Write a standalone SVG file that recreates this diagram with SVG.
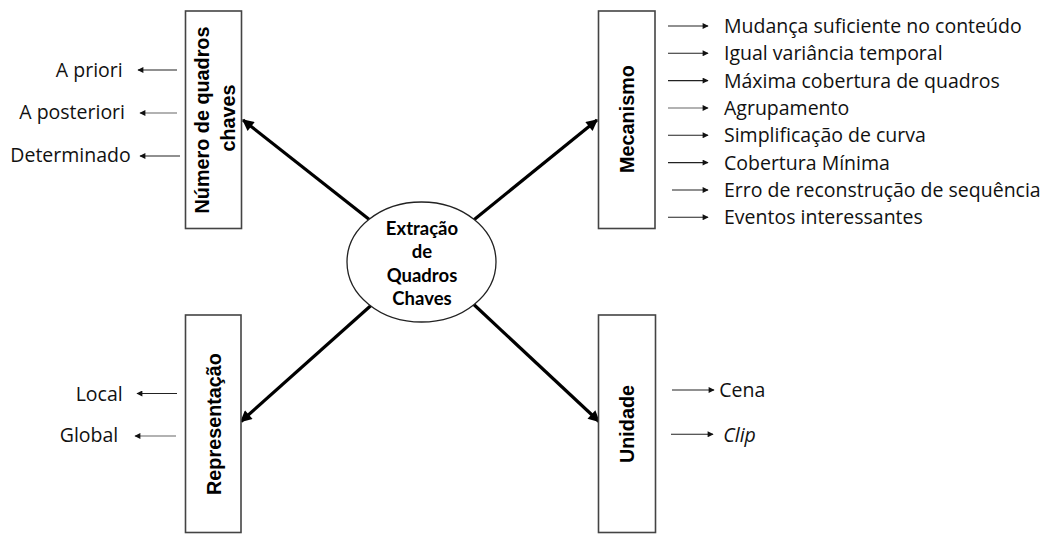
<svg xmlns="http://www.w3.org/2000/svg" width="1049" height="534" viewBox="0 0 1049 534">
<defs>
<style>
.box{fill:#fff;stroke:#444;stroke-width:1.6}
.bt{font-family:"Liberation Sans",Arial,sans-serif;font-weight:bold;font-size:19.8px;fill:#000;text-anchor:middle}
.ct{font-family:Lato,"Open Sans",sans-serif;font-weight:bold;font-size:18.5px;fill:#000;text-anchor:middle}
.lb{font-family:"Open Sans","Noto Sans",sans-serif;font-size:19.5px;fill:#111}
.lbe{font-family:"Open Sans","Noto Sans",sans-serif;font-size:19.5px;fill:#111;text-anchor:end}
.main{stroke:#000;stroke-width:3.2;fill:none}
.thin{stroke:#222;stroke-width:1.1;fill:none}
.gray{stroke:#999;stroke-width:1.6;fill:none}
</style>
<marker id="big" viewBox="0 0 10 10" refX="9" refY="5" markerWidth="4.2" markerHeight="3.6" markerUnits="strokeWidth" orient="auto">
<path d="M0,0 L10,5 L0,10 Z" fill="#000"/>
</marker>
<marker id="small" viewBox="0 0 10 10" refX="9" refY="5" markerWidth="7.5" markerHeight="6" markerUnits="userSpaceOnUse" orient="auto">
<path d="M0,0 L10,5 L0,10 Z" fill="#111"/>
</marker>
</defs>
<rect width="1049" height="534" fill="#fff"/>
<g id="connectors">
<line class="main" x1="375" y1="224" x2="243" y2="120" marker-end="url(#big)"/>
<line class="main" x1="470" y1="223" x2="597" y2="120" marker-end="url(#big)"/>
<line class="main" x1="376" y1="301" x2="241" y2="421.5" marker-end="url(#big)"/>
<line class="main" x1="469" y1="300" x2="599" y2="421.5" marker-end="url(#big)"/>
<line class="thin" x1="177" y1="70" x2="138" y2="70" marker-end="url(#small)"/>
<line class="gray" x1="177" y1="113" x2="140" y2="113" marker-end="url(#small)"/>
<line class="thin" x1="180" y1="156" x2="140" y2="156" marker-end="url(#small)"/>
<line class="thin" x1="177" y1="393.5" x2="137" y2="393.5" marker-end="url(#small)"/>
<line class="gray" x1="176" y1="436" x2="135" y2="436" marker-end="url(#small)"/>
<line class="thin" x1="668" y1="26" x2="708" y2="26" marker-end="url(#small)"/>
<line class="thin" x1="668" y1="53.3" x2="708" y2="53.3" marker-end="url(#small)"/>
<line class="thin" x1="668" y1="80.6" x2="708" y2="80.6" marker-end="url(#small)"/>
<line class="gray" x1="668" y1="108" x2="708" y2="108" marker-end="url(#small)"/>
<line class="thin" x1="668" y1="135.3" x2="708" y2="135.3" marker-end="url(#small)"/>
<line class="thin" x1="668" y1="162.6" x2="708" y2="162.6" marker-end="url(#small)"/>
<line class="thin" x1="672" y1="190" x2="708" y2="190" marker-end="url(#small)"/>
<line class="thin" x1="668" y1="217.3" x2="708" y2="217.3" marker-end="url(#small)"/>
<line class="thin" x1="672" y1="390" x2="714" y2="390" marker-end="url(#small)"/>
<line class="thin" x1="671" y1="434.3" x2="713" y2="434.3" marker-end="url(#small)"/>
</g>
<g id="center">
<ellipse cx="421.5" cy="262" rx="74.5" ry="60" fill="#fff" stroke="#222" stroke-width="1.3"/>
<text class="ct" x="422" y="235">Extração</text>
<text class="ct" x="422" y="258.3">de</text>
<text class="ct" x="422" y="281.7">Quadros</text>
<text class="ct" x="422" y="305">Chaves</text>
</g>
<g id="numero">
<rect class="box" x="185.5" y="11" width="56" height="217.5"/>
<text class="bt" transform="translate(209,120) rotate(-90)">Número de quadros</text>
<text class="bt" transform="translate(235,118) rotate(-90)">chaves</text>
<text class="lbe" x="122.7" y="77.3">A priori</text>
<text class="lbe" x="125" y="118.5">A posteriori</text>
<text class="lbe" x="130.7" y="161.7">Determinado</text>
</g>
<g id="mecanismo">
<rect class="box" x="598.5" y="11" width="56.5" height="217.5"/>
<text class="bt" transform="translate(633.5,119) rotate(-90)">Mecanismo</text>
<text class="lb" x="724" y="33">Mudança suficiente no conteúdo</text>
<text class="lb" x="724" y="60.3">Igual variância temporal</text>
<text class="lb" x="724" y="87.6">Máxima cobertura de quadros</text>
<text class="lb" x="724" y="115">Agrupamento</text>
<text class="lb" x="724" y="142.3">Simplificação de curva</text>
<text class="lb" x="724" y="169.6">Cobertura Mínima</text>
<text class="lb" x="724" y="197">Erro de reconstrução de sequência</text>
<text class="lb" x="724" y="224.3">Eventos interessantes</text>
</g>
<g id="representacao">
<rect class="box" x="185.5" y="315" width="55.5" height="217.5"/>
<text class="bt" transform="translate(220.5,424) rotate(-90)">Representação</text>
<text class="lbe" x="122.7" y="400.5">Local</text>
<text class="lbe" x="118.3" y="442">Global</text>
</g>
<g id="unidade">
<rect class="box" x="598.5" y="315" width="57" height="217.5"/>
<text class="bt" transform="translate(634,424) rotate(-90)">Unidade</text>
<text class="lb" x="719.3" y="397">Cena</text>
<text class="lb" x="723.3" y="441.5" font-style="italic">Clip</text>
</g>
</svg>
